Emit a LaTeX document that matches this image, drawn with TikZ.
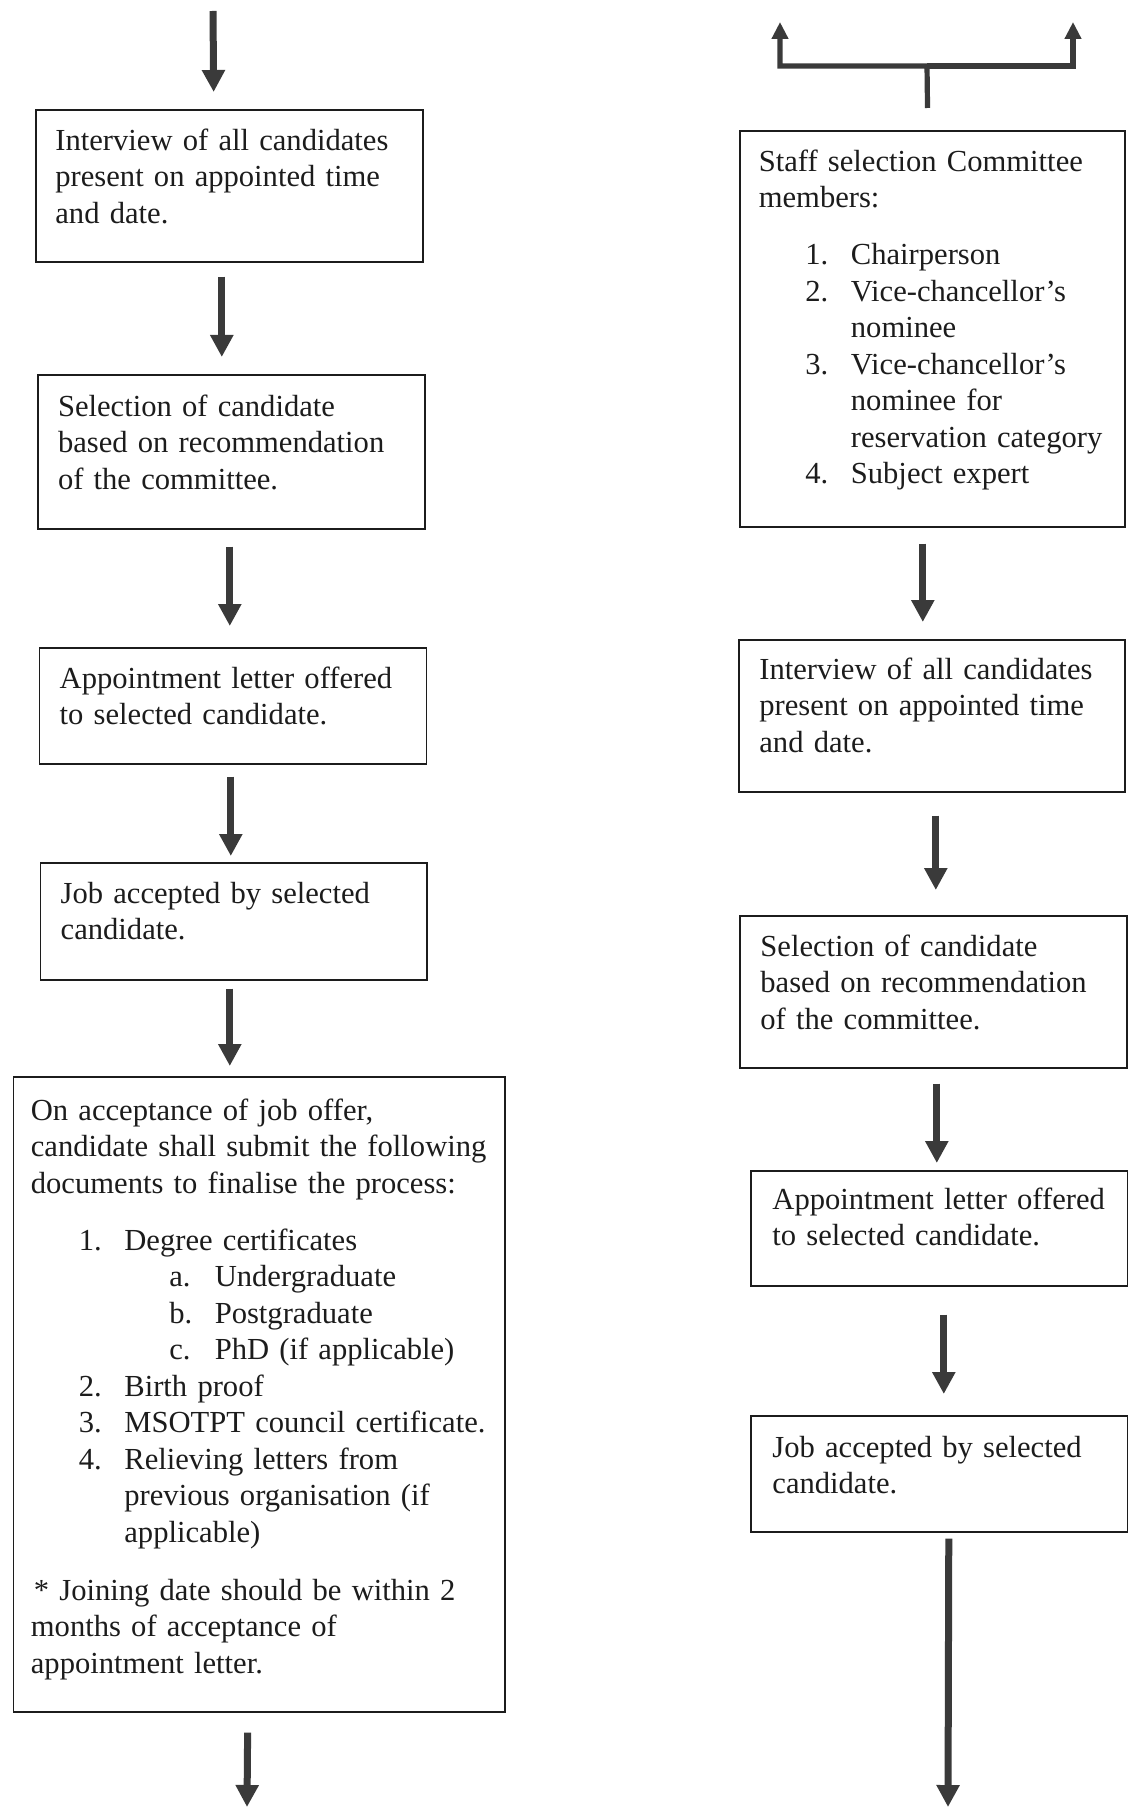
\documentclass[tikz,border=0pt]{standalone}
\usepackage{fontspec}
\setmainfont{Liberation Serif}
\usepackage{xcolor}
\usepackage{tikz}
\usetikzlibrary{positioning,arrows.meta}

\definecolor{tinta}{HTML}{1C1C1C}
\definecolor{gris}{HTML}{3A3A3A}
\newcommand{\punto}[3]{\hspace*{#1}\makebox[22.75pt][l]{#2}#3}

\begin{document}
\begin{tikzpicture}[x=0.5pt, y=-0.5pt,
  caja/.style={draw=tinta, line width=0.8pt, anchor=north west, inner sep=0pt},
  texto/.style={anchor=north west, inner sep=0pt, align=left, text=tinta, text width=180pt,
    font=\fontsize{15.3}{18.25}\selectfont, execute at begin node=\strut},
  flecha/.style={draw=gris, line width=3.5pt, -{Triangle[width=11pt, length=11pt]}},
  rama/.style={draw=gris, line width=2.6pt, -{Triangle[width=8pt, length=8.5pt]}}
]
  \useasboundingbox (0,0) rectangle (1128,1807);

  \node[caja, minimum width=193.5pt, minimum height=76pt]    (l1) at (35,109)   {};
  \node[caja, minimum width=193.5pt, minimum height=77pt]    (l2) at (37,374)   {};
  \node[caja, minimum width=193.5pt, minimum height=58pt]    (l3) at (38.5,647) {};
  \node[caja, minimum width=193.25pt, minimum height=58.5pt] (l4) at (39.5,862) {};
  \node[caja, minimum width=245.75pt, minimum height=317.5pt] (l5) at (12.5,1076) {};

  \node[caja, minimum width=192.5pt, minimum height=198pt]   (r1) at (739,130)  {};
  \node[caja, minimum width=193pt, minimum height=76pt]      (r2) at (738,639)  {};
  \node[caja, minimum width=193.5pt, minimum height=76pt]    (r3) at (739,915)  {};
  \node[caja, minimum width=188.5pt, minimum height=57.5pt]  (r4) at (750,1170) {};
  \node[caja, minimum width=188.5pt, minimum height=58pt]    (r5) at (750,1415) {};

  \node[texto, below right=7.7pt and 10pt of l1.north west] (tl1)
    {Interview of all candidates\\ present on appointed time\\ and date.};
  \node[texto, below right=8.2pt and 10.3pt of l2.north west] (tl2)
    {Selection of candidate\\ based on recommendation\\ of the committee.};
  \node[texto, below right=7.7pt and 10.4pt of l3.north west] (tl3)
    {Appointment letter offered\\ to selected candidate.};
  \node[texto, below right=7.7pt and 10.4pt of l4.north west] (tl4)
    {Job accepted by selected\\ candidate.};
  \node[texto, text width=236pt, below right=9.2pt and 9pt of l5.north west] (tl5)
    {On acceptance of job offer,\\
     candidate shall submit the following\\
     documents to finalise the process:\\[10.25pt]
     \punto{24pt}{1.}{Degree certificates}\\
     \punto{69.2pt}{a.}{Undergraduate}\\
     \punto{69.2pt}{b.}{Postgraduate}\\
     \punto{69.2pt}{c.}{PhD (if applicable)}\\
     \punto{24pt}{2.}{Birth proof}\\
     \punto{24pt}{3.}{MSOTPT council certificate.}\\
     \punto{24pt}{4.}{Relieving letters from}\\
     \hspace*{46.75pt}previous organisation (if\\
     \hspace*{46.75pt}applicable)\\[10.75pt]
     \hspace*{1.5pt}* Joining date should be within 2\\
     months of acceptance of\\
     appointment letter.};

  \node[texto, below right=7.7pt and 9.7pt of r1.north west] (tr1)
    {Staff selection Committee\\
     members:\\[10.25pt]
     \punto{23.3pt}{1.}{Chairperson}\\
     \punto{23.3pt}{2.}{Vice-chancellor's}\\
     \hspace*{46.05pt}nominee\\
     \punto{23.3pt}{3.}{Vice-chancellor's}\\
     \hspace*{46.05pt}nominee for\\
     \hspace*{46.05pt}reservation category\\
     \punto{23.3pt}{4.}{Subject expert}};
  \node[texto, below right=7.2pt and 10.5pt of r2.north west] (tr2)
    {Interview of all candidates\\ present on appointed time\\ and date.};
  \node[texto, below right=7.7pt and 10.5pt of r3.north west] (tr3)
    {Selection of candidate\\ based on recommendation\\ of the committee.};
  \node[texto, below right=6.7pt and 11pt of r4.north west] (tr4)
    {Appointment letter offered\\ to selected candidate.};
  \node[texto, below right=8.2pt and 11pt of r5.north west] (tr5)
    {Job accepted by selected\\ candidate.};

  \coordinate (ini)  at (213,11);
  \coordinate (fin)  at (247,1807);
  \coordinate (finR) at (948,1807);
  \coordinate (cruce) at (927,66);
  \coordinate (upL) at (780,22);
  \coordinate (upR) at (1073,22);

  \draw[flecha, shorten >=8.5pt] (ini) -- ([xshift=-7.75pt]l1.north);
  \draw[flecha, shorten <=7pt, shorten >=8.5pt] ([xshift=-3.75pt]l1.south) -- ([xshift=-4.75pt]l2.north);
  \draw[flecha, shorten <=8.5pt, shorten >=10.5pt] ([xshift=-0.75pt]l2.south) -- ([xshift=-1.5pt]l3.north);
  \draw[flecha, shorten <=6pt, shorten >=3pt] ([xshift=-1pt]l3.south) -- ([xshift=-1.375pt]l4.north);
  \draw[flecha, shorten <=4pt, shorten >=5pt] ([xshift=-1.875pt]l4.south) -- ([xshift=-14.625pt]l5.north);
  \draw[flecha, shorten <=10pt] ([xshift=-5.625pt]l5.south) -- (fin);

  \draw[rama, shorten <=11pt] ([xshift=-2.25pt]r1.north) -- (cruce) -| (upL);
  \draw[rama] (cruce) -| (upR);
  \draw[flecha, shorten <=8pt, shorten >=8.5pt] ([xshift=-4.75pt]r1.south) -- ([xshift=-4.5pt]r2.north);
  \draw[flecha, shorten <=11.5pt, shorten >=12.5pt] ([xshift=2pt]r2.south) -- ([xshift=1.25pt]r3.north);
  \draw[flecha, shorten <=7.5pt, shorten >=3.5pt] ([xshift=1.75pt]r3.south) -- ([xshift=-1.25pt]r4.north);
  \draw[flecha, shorten <=14pt, shorten >=10.5pt] ([xshift=2.25pt]r4.south) -- ([xshift=2.25pt]r5.north);
  \draw[flecha, shorten <=3pt] ([xshift=4.75pt]r5.south) -- (finR);
\end{tikzpicture}
\end{document}
